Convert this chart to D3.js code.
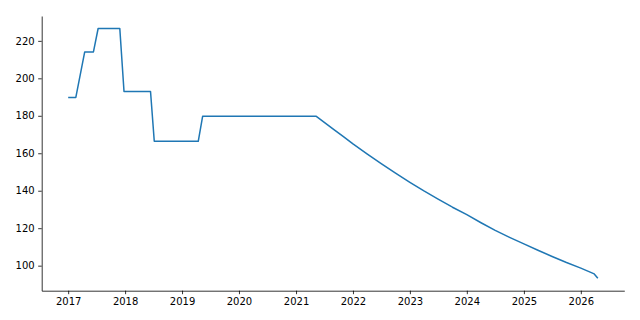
<!DOCTYPE html>
<html>
<head>
<meta charset="utf-8">
<script src="https://cdn.jsdelivr.net/npm/d3@7"></script>
<style>
  body { margin: 0; background: #fff; }
  svg { display: block; font-family: "DejaVu Sans", sans-serif; }
</style>
</head>
<body>
<svg id="canvas" width="640" height="320"></svg>
<script>
// dates and values
const dates = [
  "2017-01-01", "2017-02-19", "2017-04-17", "2017-06-12", "2017-07-12",
  "2017-11-28", "2017-12-25", "2018-06-13", "2018-07-07", "2019-04-15",
  "2019-05-13", "2021-05-11", "2021-09-01", "2021-11-01", "2022-01-01",
  "2022-04-01", "2022-07-01", "2022-10-01", "2023-01-01", "2023-04-01",
  "2023-07-01", "2023-10-01", "2024-01-01", "2024-04-01", "2024-07-01",
  "2024-10-01", "2025-01-01", "2025-04-01", "2025-07-01", "2025-10-01",
  "2026-01-01", "2026-03-28", "2026-04-20"
];
const values = [
  189.8, 189.8, 214.1, 214.1, 226.6,
  226.6, 193.0, 193.0, 166.4, 166.4,
  179.7, 179.7, 172.6, 168.9, 165.0,
  159.7, 154.5, 149.4, 144.5, 139.9,
  135.5, 131.2, 127.2, 122.9, 118.8,
  115.1, 111.6, 108.2, 104.9, 101.7,
  98.7, 95.6, 93.3
];
const yTicks = [100, 120, 140, 160, 180, 200, 220];

let parse = d3.timeParse("%Y-%m-%d");
let data = dates.map((d, i) => ({ date: parse(d), value: values[i] }));

let width = 640, height = 320;
let margin = { top: 16, right: 15.7, bottom: 29.3, left: 41.7 };

let canvas = d3.select("#canvas");

// matplotlib style 5% margins
let xExt = d3.extent(data, d => +d.date);
let xPad = (xExt[1] - xExt[0]) * 0.05;
let yExt = d3.extent(data, d => d.value);
let yPad = (yExt[1] - yExt[0]) * 0.05;

let x = d3.scaleTime()
  .domain([new Date(xExt[0] - xPad), new Date(xExt[1] + xPad)])
  .range([margin.left, width - margin.right]);
let y = d3.scaleLinear()
  .domain([yExt[0] - yPad, yExt[1] + yPad])
  .range([height - margin.bottom, margin.top]);

let xAxis = canvas.append("g")
  .attr("transform", `translate(0,${height - margin.bottom})`)
  .call(d3.axisBottom(x).ticks(d3.timeYear.every(1)).tickFormat(d3.timeFormat("%Y"))
    .tickSizeInner(3.5).tickSizeOuter(0).tickPadding(3.5));
let yAxis = canvas.append("g")
  .attr("transform", `translate(${margin.left},0)`)
  .call(d3.axisLeft(y).tickValues(yTicks).tickSizeInner(3.5).tickSizeOuter(0).tickPadding(3.5));

[xAxis, yAxis].forEach(g => {
  g.selectAll("text").attr("font-size", 10).attr("fill", "#000").attr("font-family", "DejaVu Sans");
  g.selectAll("line").attr("stroke", "#000").attr("stroke-width", 0.8);
  g.select(".domain").attr("stroke", "#000").attr("stroke-width", 0.8);
});

canvas.append("path")
  .datum(data)
  .attr("fill", "none")
  .attr("stroke", "#1f77b4")
  .attr("stroke-width", 1.5)
  .attr("stroke-linejoin", "round")
  .attr("d", d3.line().x(d => x(d.date)).y(d => y(d.value)));
</script>
</body>
</html>
